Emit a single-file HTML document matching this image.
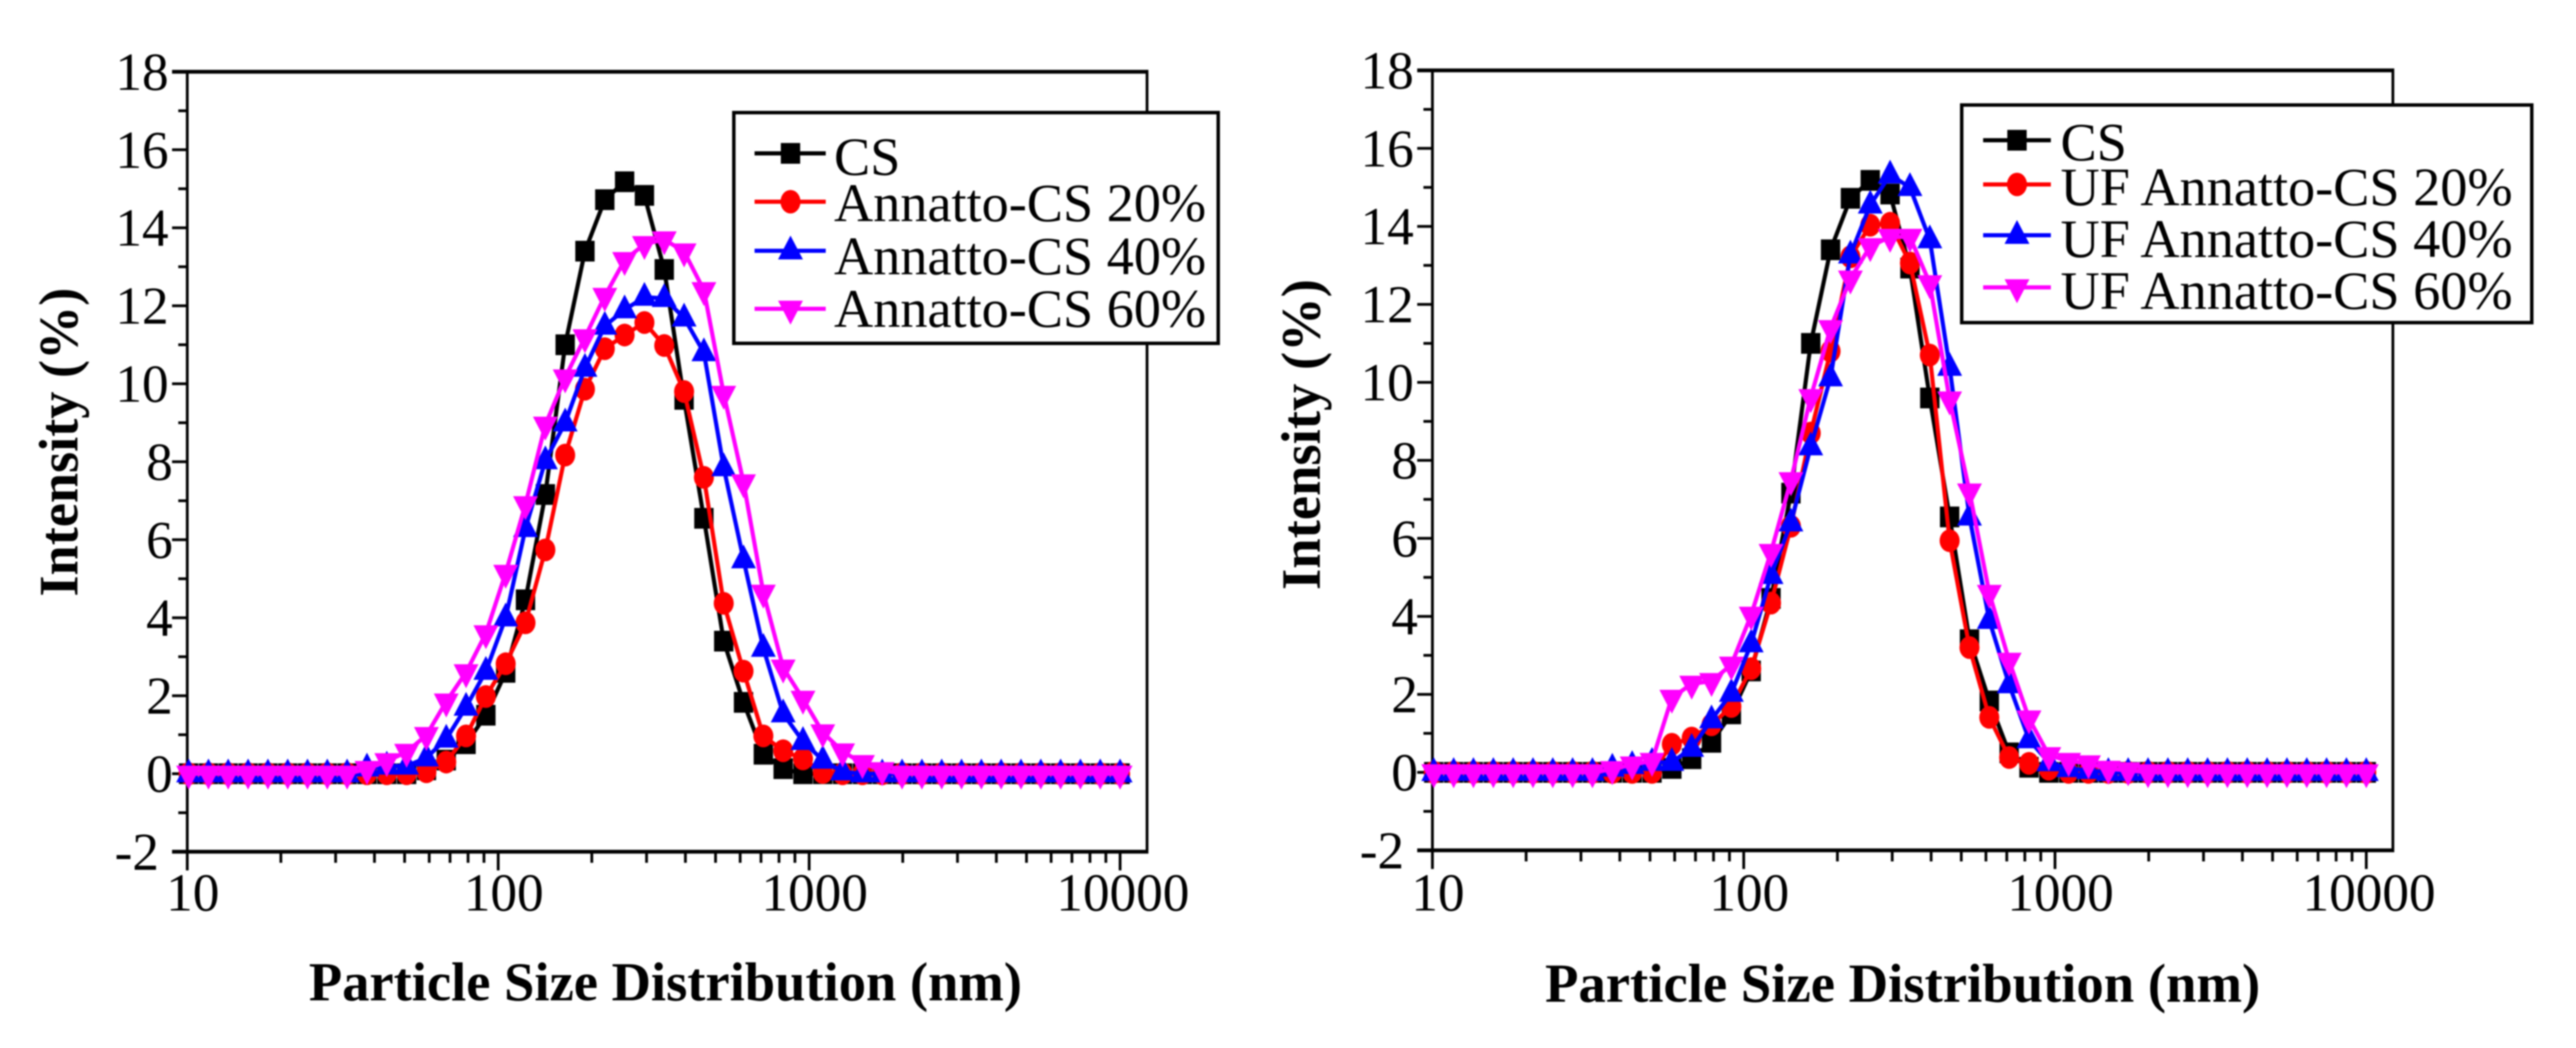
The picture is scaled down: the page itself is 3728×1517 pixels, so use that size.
<!DOCTYPE html>
<html lang="en">
<head>
<meta charset="utf-8">
<title>Particle Size Distribution</title>
<style>
html,body{margin:0;padding:0;background:#fff;width:3728px;height:1517px;overflow:hidden}
svg{display:block;filter:blur(1px)}
text{font-family:"Liberation Serif",serif;fill:#000}
.tick{font-size:77px}
.leg{font-size:78.5px}
.title{font-size:79px;font-weight:bold}
.ytitle{font-size:80px;font-weight:bold}
</style>
</head>
<body>
<svg id="figure" width="3728" height="1517" viewBox="0 0 3728 1517" xmlns="http://www.w3.org/2000/svg">
  <rect width="3728" height="1517" fill="#fff"/>
  <g id="panel-a"></g>
  <g id="panel-b"></g>

  <text class="title" x="447" y="1448" textLength="1032" lengthAdjust="spacingAndGlyphs">Particle Size Distribution (nm)</text>
  <text class="ytitle" transform="translate(112,640) rotate(-90)" text-anchor="middle" textLength="447" lengthAdjust="spacingAndGlyphs">Intensity (%)</text>
  <text class="title" x="2236" y="1450" textLength="1035" lengthAdjust="spacingAndGlyphs">Particle Size Distribution (nm)</text>
  <text class="ytitle" transform="translate(1910,629) rotate(-90)" text-anchor="middle" textLength="450" lengthAdjust="spacingAndGlyphs">Intensity (%)</text>

  <g>
    <rect x="1062" y="163" width="701" height="334" fill="#fff" stroke="#000" stroke-width="5"/>
    <g>
      <line x1="1092" x2="1195" y1="222" y2="222" stroke="#000" stroke-width="6"/>
      <rect x="1130" y="207" width="28" height="30" fill="#000"/>
      <text class="leg" x="1207" y="253">CS</text>
    </g>
    <g>
      <line x1="1092" x2="1195" y1="292" y2="292" stroke="#f00" stroke-width="6"/>
      <ellipse cx="1144" cy="292" rx="14.5" ry="17" fill="#f00"/>
      <text class="leg" x="1207" y="320">Annatto-CS 20%</text>
    </g>
    <g>
      <line x1="1092" x2="1195" y1="363" y2="363" stroke="#00f" stroke-width="6"/>
      <polygon points="1144,341 1162,375.5 1126,375.5" fill="#00f"/>
      <text class="leg" x="1207" y="397">Annatto-CS 40%</text>
    </g>
    <g>
      <line x1="1092" x2="1195" y1="447" y2="447" stroke="#f0f" stroke-width="6"/>
      <polygon points="1126,435.3 1162,435.3 1144,470" fill="#f0f"/>
      <text class="leg" x="1207" y="473">Annatto-CS 60%</text>
    </g>
  </g>

  <g>
    <rect x="2839" y="152" width="825" height="315" fill="#fff" stroke="#000" stroke-width="5"/>
    <g>
      <line x1="2870" x2="2968" y1="203" y2="203" stroke="#000" stroke-width="6"/>
      <rect x="2905" y="188" width="28" height="30" fill="#000"/>
      <text class="leg" x="2982" y="232">CS</text>
    </g>
    <g>
      <line x1="2870" x2="2968" y1="267" y2="267" stroke="#f00" stroke-width="6"/>
      <ellipse cx="2919" cy="267" rx="14.5" ry="17" fill="#f00"/>
      <text class="leg" x="2982" y="297">UF Annatto-CS 20%</text>
    </g>
    <g>
      <line x1="2870" x2="2968" y1="340.5" y2="340.5" stroke="#00f" stroke-width="6"/>
      <polygon points="2919,318.5 2937,353 2901,353" fill="#00f"/>
      <text class="leg" x="2982" y="372">UF Annatto-CS 40%</text>
    </g>
    <g>
      <line x1="2870" x2="2968" y1="416" y2="416" stroke="#f0f" stroke-width="6"/>
      <polygon points="2901,404.3 2937,404.3 2919,439" fill="#f0f"/>
      <text class="leg" x="2982" y="447">UF Annatto-CS 60%</text>
    </g>
  </g>
</svg>
<script>
// Particle diameter bins (nm)
const sizes = [10.1,11.7,13.54,15.69,18.17,21.04,24.36,28.21,32.67,37.84,43.82,50.75,58.77,68.06,78.82,91.28,105.7,122.4,141.8,164.2,190.1,220.2,255,295.3,342,396.1,458.7,531.2,615.1,712.4,825,955.4,1106,1281,1484,1718,1990,2305,2669,3091,3580,4145,4801,5560,6439,7456,8635,10000];

// Intensity (%) for each bin
const csValues = [0,0,0,0,0,0,0,0,0,0,0,0,0.1,0.35,0.77,1.5,2.6,4.46,7.16,11.0,13.4,14.72,15.18,14.83,12.93,9.6,6.55,3.4,1.83,0.5,0.13,0,0,0,0,0,0,0,0,0,0,0,0,0,0,0,0,0];
const annatto20 = [0,0,0,0,0,0,0,0,0,0,0,0,0.05,0.3,0.97,1.98,2.82,3.87,5.74,8.17,9.86,10.9,11.25,11.57,10.98,9.8,7.6,4.37,2.63,0.97,0.59,0.38,0.03,0,0,0,0,0,0,0,0,0,0,0,0,0,0,0];
const annatto40 = [0,0,0,0,0,0,0,0,0,0.15,0.2,0.2,0.41,0.89,1.71,2.63,4.0,6.29,8.03,9.0,10.4,11.48,11.9,12.22,12.19,11.69,10.8,7.85,5.49,3.22,1.54,0.83,0.35,0.05,0,0,0,0,0,0,0,0,0,0,0,0,0,0];
const annatto60 = [0,0,0,0,0,0,0,0,0,0.12,0.32,0.56,0.99,1.85,2.6,3.6,5.15,6.91,8.95,10.16,11.19,12.25,13.17,13.58,13.7,13.39,12.4,9.74,7.47,4.64,2.72,1.92,1.06,0.57,0.27,0.09,0,0,0,0,0,0,0,0,0,0,0,0];
const uf20 = [0,0,0,0,0,0,0,0,0,0,0,0,0.72,0.88,1.22,1.69,2.66,4.34,6.31,8.7,10.8,13.22,14.03,14.08,13.06,10.7,5.94,3.2,1.41,0.38,0.23,0.08,0,0,0,0,0,0,0,0,0,0,0,0,0,0,0,0];
const uf40 = [0,0,0,0,0,0,0,0,0,0.11,0.18,0.26,0.26,0.62,1.35,2.03,3.3,5.05,6.4,8.35,10.12,13.27,14.55,15.32,15.0,13.66,10.39,6.55,3.9,2.25,0.84,0.25,0.1,0.05,0,0,0,0,0,0,0,0,0,0,0,0,0,0];
const uf60 = [0,0,0,0,0,0,0,0,0,0.08,0.2,0.29,1.91,2.27,2.34,2.76,4.04,5.65,7.49,9.62,11.39,12.66,13.49,13.73,13.73,12.54,9.56,7.2,4.6,2.86,1.38,0.44,0.29,0.23,0.09,0.05,0,0,0,0,0,0,0,0,0,0,0,0];

// Axis ticks
const yTickLabels = ["-2","0","2","4","6","8","10","12","14","16","18"];
const yMinorTicks = [-1,1,3,5,7,9,11,13,15,17];
const xTickLabels = ["10","100","1000","10000"];
const xMinorMultipliers = [2,3,4,5,6,7,8,9];

const NS = 'http://www.w3.org/2000/svg';

function make(parent, tag, attrs) {
  const node = document.createElementNS(NS, tag);
  for (const key in attrs) node.setAttribute(key, attrs[key]);
  parent.appendChild(node);
  return node;
}

function drawMarker(parent, shape, color, cx, cy) {
  let node;
  if (shape === 'square') {
    node = make(parent, 'rect', {x: cx - 14, y: cy - 15, width: 28, height: 30, fill: color});
  } else if (shape === 'circle') {
    node = make(parent, 'ellipse', {cx: cx, cy: cy, rx: 14.5, ry: 16.5, fill: color});
  } else if (shape === 'up') {
    node = make(parent, 'polygon', {points: cx + ',' + (cy - 22) + ' ' + (cx + 18) + ',' + (cy + 12.5) + ' ' + (cx - 18) + ',' + (cy + 12.5), fill: color});
  } else {
    node = make(parent, 'polygon', {points: (cx - 18) + ',' + (cy - 11.7) + ' ' + (cx + 18) + ',' + (cy - 11.7) + ' ' + cx + ',' + (cy + 23), fill: color});
  }
  
  
}

function drawPanel(root, frame, seriesList) {
  const xScale = function (v) { return frame.x10 + frame.decade * (Math.log10(v) - 1); };
  const yScale = function (v) { return frame.y0 - frame.unit * v; };
  const top = yScale(18), bottom = yScale(-2);

  // frame
  const leftAxis = make(root, 'line', {x1: frame.x10, x2: frame.x10, y1: top, y2: bottom, stroke: '#000', 'stroke-width': 4});
  
  
  const rightAxis = make(root, 'line', {x1: frame.right, x2: frame.right, y1: top - 2.5, y2: bottom + 2.5, stroke: '#000', 'stroke-width': 4});
  
  
  const topAxis = make(root, 'line', {x1: frame.x10 - 22, x2: frame.right + 2, y1: top, y2: top, stroke: '#000', 'stroke-width': 5.5});
  
  
  const bottomAxis = make(root, 'line', {x1: frame.x10 - 22, x2: frame.right + 2, y1: bottom, y2: bottom, stroke: '#000', 'stroke-width': 5.5});
  
  

  // y ticks
  yTickLabels.forEach(function (label) {
    const v = Number(label);
    const y = yScale(v);
    const tick = make(root, 'line', {x1: frame.x10 - 22, x2: frame.x10, y1: y, y2: y, stroke: '#000', 'stroke-width': 4});
    
    
    const gap = label[0] === '-' ? 41 : (label.length === 1 ? 21 : 27);
    const text = make(root, 'text', {x: frame.x10 - gap, y: y + 26, 'text-anchor': 'end', class: 'tick'});
    
    
    text.textContent = label;
  });
  yMinorTicks.forEach(function (v) {
    const y = yScale(v);
    const tick = make(root, 'line', {x1: frame.x10 - 13, x2: frame.x10, y1: y, y2: y, stroke: '#000', 'stroke-width': 4});
    
    
  });

  // x ticks
  xTickLabels.forEach(function (label, idx) {
    const v = Number(label);
    const x = xScale(v);
    const tick = make(root, 'line', {x1: x, x2: x, y1: bottom, y2: bottom + 27, stroke: '#000', 'stroke-width': 4});
    
    
    const text = make(root, 'text', {x: x + (idx === 3 ? 4 : 8), y: 1318, 'text-anchor': 'middle', class: 'tick'});
    
    
    text.textContent = label;
    if (idx < 3) {
      xMinorMultipliers.forEach(function (m) {
        const mx = xScale(v * m);
        const minor = make(root, 'line', {x1: mx, x2: mx, y1: bottom, y2: bottom + 16, stroke: '#000', 'stroke-width': 4});
        
        
      });
    }
  });

  // series
  seriesList.forEach(function (series) {
    const group = make(root, 'g', {});
    
    
    const pts = series.values.map(function (v, i) { return xScale(sizes[i]) + ',' + yScale(v); }).join(' ');
    const path = make(group, 'polyline', {points: pts, fill: 'none', stroke: series.color, 'stroke-width': 6, 'stroke-linejoin': 'round'});
    
    
    series.values.forEach(function (v, i) {
      drawMarker(group, series.shape, series.color, xScale(sizes[i]), yScale(v));
    });
  });
}

drawPanel(document.getElementById('panel-a'),
  {x10: 271, decade: 450, right: 1660, y0: 1120, unit: 56.45},
  [
    {name: 'series-cs', values: csValues, color: '#000', shape: 'square'},
    {name: 'series-annatto-20', values: annatto20, color: '#f00', shape: 'circle'},
    {name: 'series-annatto-40', values: annatto40, color: '#00f', shape: 'up'},
    {name: 'series-annatto-60', values: annatto60, color: '#f0f', shape: 'down'}
  ]);
drawPanel(document.getElementById('panel-b'),
  {x10: 2073, decade: 450.5, right: 3463, y0: 1118, unit: 56.45},
  [
    {name: 'series-cs', values: csValues, color: '#000', shape: 'square'},
    {name: 'series-uf-20', values: uf20, color: '#f00', shape: 'circle'},
    {name: 'series-uf-40', values: uf40, color: '#00f', shape: 'up'},
    {name: 'series-uf-60', values: uf60, color: '#f0f', shape: 'down'}
  ]);
</script>
</body>
</html>
